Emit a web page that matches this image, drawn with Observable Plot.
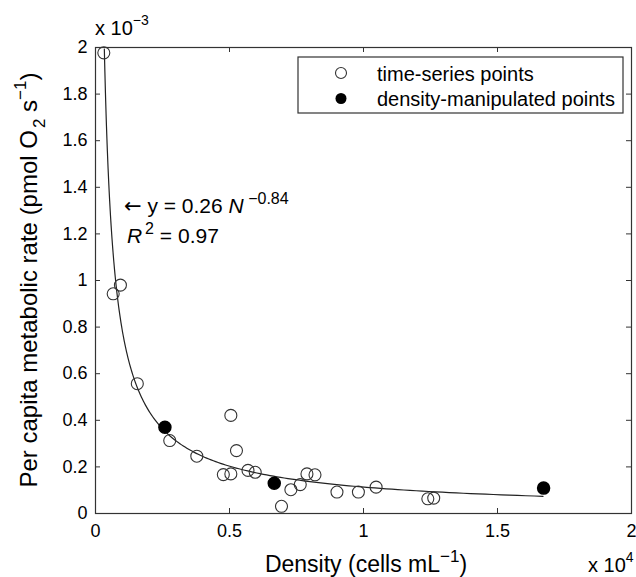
<!DOCTYPE html>
<html><head><meta charset="utf-8">
<script src="https://cdn.jsdelivr.net/npm/d3@7"></script>
<script src="https://cdn.jsdelivr.net/npm/@observablehq/plot@0.6"></script>
<style>
body{margin:0;background:#fff;}
#chart{width:636px;height:577px;}
</style></head><body><div id="chart"></div>
<script>
// Time-series points (density in 10^4 cells/mL, rate in 10^-3 pmol O2/s)
const timeSeriesDensity = [0.031, 0.066, 0.093, 0.156, 0.277, 0.378, 0.477, 0.505, 0.505, 0.526, 0.569, 0.596, 0.694, 0.729, 0.764, 0.789, 0.819, 0.901, 0.981, 1.047, 1.240, 1.262];
const timeSeriesRate    = [1.977, 0.943, 0.980, 0.557, 0.313, 0.246, 0.167, 0.170, 0.421, 0.270, 0.185, 0.177, 0.031, 0.102, 0.124, 0.170, 0.166, 0.092, 0.092, 0.113, 0.063, 0.066];
// Density-manipulated points
const manipulatedDensity = [0.259, 0.667, 1.672];
const manipulatedRate    = [0.370, 0.130, 0.109];
// Power-law fit shown on the chart: y = 0.26 N^-0.84
const fitCoefficient = 0.26;
const fitExponent = -0.84;
const fitDensityRange = [0.033, 1.67];
// Axis ticks
const xTicks = [0, 0.5, 1, 1.5, 2];
const yTicks = [0, 0.2, 0.4, 0.6, 0.8, 1, 1.2, 1.4, 1.6, 1.8, 2];
const legendLabels = ["time-series points", "density-manipulated points"];

const FONT = "'Liberation Sans', Arial, Helvetica, sans-serif";
const W = 636, H = 577, mL = 95, mR = 5, mT = 47, mB = 64;
const plotW = W - mL - mR, plotH = H - mT - mB;

const ts = timeSeriesDensity.map((x, i) => ({x, y: timeSeriesRate[i]}));
const dm = manipulatedDensity.map((x, i) => ({x, y: manipulatedRate[i]}));
// fitted curve evaluated from the stated equation (N in cells/mL, rate in pmol/s)
const fit = d3.range(0, 201).map(i => {
  const lx = Math.log(fitDensityRange[0]) + (Math.log(fitDensityRange[1]) - Math.log(fitDensityRange[0])) * i / 200;
  const x = Math.exp(lx);
  return {x, y: fitCoefficient * Math.pow(x * 1e4, fitExponent) * 1e3};
});
const innerX = xTicks.slice(1, -1);
const innerY = yTicks.slice(1, -1);

const chart = Plot.plot({
  width: W, height: H,
  marginLeft: mL, marginRight: mR, marginTop: mT, marginBottom: mB,
  style: {fontFamily: FONT, fontSize: "18px", color: "#000", background: "white"},
  x: {domain: [0, 2], label: null},
  y: {domain: [0, 2], label: null},
  marks: [
    Plot.line(fit, {x: "x", y: "y", stroke: "#222", strokeWidth: 1.2}),
    Plot.dot(ts, {x: "x", y: "y", r: 6, stroke: "#333", strokeWidth: 1.1, fill: "none"}),
    Plot.dot(dm, {x: "x", y: "y", r: 6, fill: "#000", stroke: "#000"}),
    Plot.tickX(innerX, {x: d => d, stroke: "#333", insetTop: plotH - 5}),
    Plot.tickX(innerX, {x: d => d, stroke: "#333", insetBottom: plotH - 5}),
    Plot.tickY(innerY, {y: d => d, stroke: "#333", insetRight: plotW - 5}),
    Plot.tickY(innerY, {y: d => d, stroke: "#333", insetLeft: plotW - 5}),
    Plot.axisX(xTicks, {tickSize: 0, tickPadding: 11, tickFormat: d => String(d)}),
    Plot.axisY(yTicks, {tickSize: 0, tickPadding: 8, tickFormat: d => String(d)}),
    Plot.frame({stroke: "#333", strokeWidth: 1.2})
  ]
});
document.getElementById("chart").appendChild(chart);

const svg = d3.select(chart);
const xs = chart.scale("x"), ys = chart.scale("y");

function richText(parent, x, y, segs, size, attrs = {}) {
  const t = parent.append("text").attr("x", x).attr("y", y)
    .attr("font-family", FONT).attr("font-size", size).attr("fill", "#000")
    .attr("text-anchor", "start");
  for (const [k, v] of Object.entries(attrs)) t.attr(k, v);
  let shift = 0;
  for (const s of segs) {
    const sp = t.append("tspan").text(s.t);
    let target = 0;
    if (s.sup) { sp.attr("font-size", s.size || size * 0.72); target = -s.sup; }
    if (s.sub) { sp.attr("font-size", s.size || size * 0.72); target = s.sub; }
    if (s.italic) sp.attr("font-style", "italic");
    if (s.font) sp.attr("font-family", s.font);
    if (s.dx) sp.attr("dx", s.dx);
    if (target !== shift) { sp.attr("dy", target - shift); shift = target; }
  }
  return t;
}

// Axis labels
richText(svg, 0, 0, [
  {t: "Per capita metabolic rate (pmol O"}, {t: "2", sub: 8, dx: 2, size: 17}, {t: " s"}, {t: "−1", sup: 11, size: 17}, {t: ")"}
], 24, {"text-anchor": "middle", transform: "translate(37,280) rotate(-90)"});
richText(svg, 366, 572, [
  {t: "Density (cells mL"}, {t: "−1", sup: 10, size: 17}, {t: ")"}
], 23, {"text-anchor": "middle"});

// Exponent labels
richText(svg, mL, 35, [{t: "x 10"}, {t: "−3", sup: 10, size: 14}], 20);
richText(svg, 588, 572, [{t: "x 10"}, {t: "4", sup: 10, size: 14}], 20);

// Fit annotation anchored in data space
const annX = 0.108, annY1 = 1.288, annY2 = 1.16;
richText(svg, xs.apply(annX), ys.apply(annY1), [
  {t: "←", font: "'DejaVu Sans', sans-serif"}, {t: " y = 0.26 "}, {t: "N", italic: true}, {t: " −0.84", sup: 9, size: 16}
], 21);
richText(svg, xs.apply(annX) + 3, ys.apply(annY2), [
  {t: "R", italic: true}, {t: "2", sup: 9, size: 16, dx: 3}, {t: " = 0.97"}
], 21);

// Legend
const lg = svg.append("g");
const lx0 = W - mR - 8 - 325, ly0 = mT + 10;
lg.append("rect").attr("x", lx0).attr("y", ly0).attr("width", 325).attr("height", 56)
  .attr("fill", "white").attr("stroke", "#333").attr("stroke-width", 1.2);
lg.append("circle").attr("cx", lx0 + 43).attr("cy", ly0 + 16).attr("r", 5.5)
  .attr("fill", "none").attr("stroke", "#333").attr("stroke-width", 1.1);
lg.append("circle").attr("cx", lx0 + 43).attr("cy", ly0 + 41.5).attr("r", 5.5)
  .attr("fill", "#000");
legendLabels.forEach((s, i) => {
  lg.append("text").attr("x", lx0 + 79).attr("y", ly0 + 23.5 + i * 25)
    .attr("font-family", FONT).attr("font-size", 20).attr("fill", "#000")
    .attr("text-anchor", "start").text(s);
});
</script>
</body></html>
